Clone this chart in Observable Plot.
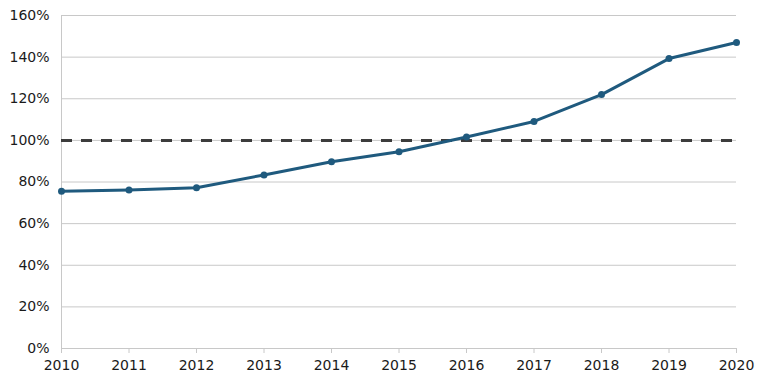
<!DOCTYPE html>
<html>
<head>
<meta charset="utf-8">
<script src="https://cdn.jsdelivr.net/npm/d3@7"></script>
<script src="https://cdn.jsdelivr.net/npm/@observablehq/plot@0.6"></script>
<style>
html, body { margin: 0; padding: 0; background: #fff; }
#chart svg { display: block; }
#chart svg text { font-family: "DejaVu Sans", sans-serif; font-size: 14px; fill: #1a1a1a; }
</style>
</head>
<body>
<div id="chart"></div>
<script>
const years = [2010, 2011, 2012, 2013, 2014, 2015, 2016, 2017, 2018, 2019, 2020];
const values = [0.755, 0.762, 0.772, 0.834, 0.897, 0.945, 1.016, 1.091, 1.220, 1.393, 1.470];
const reference = [1.0];
const yTicks = [0, 0.2, 0.4, 0.6, 0.8, 1.0, 1.2, 1.4, 1.6];

const data = years.map((year, i) => ({year, value: values[i]}));

const chart = Plot.plot({
  width: 768,
  height: 384,
  marginLeft: 61,
  marginRight: 32,
  marginTop: 15,
  marginBottom: 36,
  style: {fontFamily: "DejaVu Sans", fontSize: "14px", background: "#fff"},
  x: {domain: [2010, 2020], label: null},
  y: {domain: [0, 1.6], label: null},
  marks: [
    Plot.gridY(yTicks, {stroke: "#c8c8c8", strokeOpacity: 1, strokeWidth: 1}),
    Plot.ruleX([2010], {stroke: "#c8c8c8", strokeWidth: 1}),
    Plot.axisX({ticks: years, tickFormat: d => String(d), tickSize: 5, stroke: "#c8c8c8", tickPadding: 7}),
    Plot.axisY({ticks: yTicks, tickFormat: d => `${Math.round(d * 100)}%`, tickSize: 0, tickPadding: 12}),
    Plot.ruleY(reference, {stroke: "#3c3c3c", strokeWidth: 3, strokeDasharray: "11,9"}),
    Plot.line(data, {x: "year", y: "value", stroke: "#1f5a7e", strokeWidth: 3}),
    Plot.dot(data, {x: "year", y: "value", fill: "#1f5a7e", r: 3.5})
  ]
});
document.getElementById("chart").appendChild(chart);
</script>
</body>
</html>
